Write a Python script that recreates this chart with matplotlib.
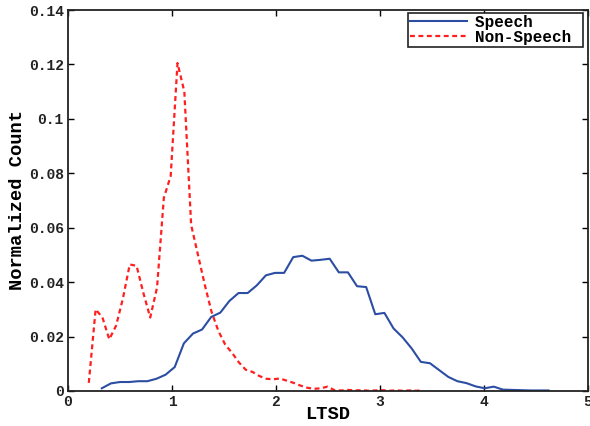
import numpy as np
import matplotlib
matplotlib.use("Agg")
import matplotlib.pyplot as plt
from matplotlib.ticker import FuncFormatter

# histogram bin centres (50 bins per class)
x_speech = np.linspace(0.325, 4.62, 50)
x_nonspeech = np.linspace(0.20, 3.415, 50)

speech = [0.0010, 0.0028, 0.0033, 0.0033, 0.0036, 0.0036, 0.0045, 0.0060, 0.0088, 0.0175,
          0.0211, 0.0226, 0.0272, 0.0288, 0.0331, 0.0360, 0.0360, 0.0388, 0.0425, 0.0434,
          0.0434, 0.0492, 0.0497, 0.0479, 0.0482, 0.0486, 0.0436, 0.0436, 0.0385, 0.0382,
          0.0282, 0.0287, 0.0230, 0.0197, 0.0156, 0.0107, 0.0102, 0.0077, 0.0052, 0.0036,
          0.0029, 0.0017, 0.0010, 0.0016, 0.0005, 0.0004, 0.0003, 0.0002, 0.0002, 0.0002]

nonspeech = [0.0030, 0.0300, 0.0270, 0.0190, 0.0240, 0.0340, 0.0465, 0.0460, 0.0360, 0.0270,
             0.0380, 0.0710, 0.0790, 0.1205, 0.1100, 0.0610, 0.0500, 0.0390, 0.0290, 0.0220,
             0.0170, 0.0140, 0.0105, 0.0078, 0.0070, 0.0055, 0.0045, 0.0043, 0.0046, 0.0038,
             0.0030, 0.0020, 0.0012, 0.0008, 0.0010, 0.0016, 0.0003, 0.0002, 0.0004, 0.0002,
             0.0003, 0.0001, 0.0002, 0.0003, 0.0001, 0.0002, 0.0001, 0.0002, 0.0001, 0.0002]

labels = ["Speech", "Non-Speech"]

font = "Liberation Mono"

fig = plt.figure(figsize=(5.9, 4.26), dpi=100)
ax = fig.add_axes([68 / 590, 35 / 426, 520 / 590, 381 / 426])

# trailing space gives the wider right margin of the MATLAB legend box
ax.plot(x_speech, speech, color="#2b4ea3", lw=1.5, label=labels[0] + " ")
ax.plot(x_nonspeech, nonspeech, color="#ff1f1f", lw=1.6, ls=(0, (2.2, 1.6)), label=labels[1] + " ")

ax.set_xlim(0, 5)
ax.set_ylim(0, 0.14)
ax.set_xticks(np.arange(0, 6, 1))
ax.set_yticks(np.arange(0, 0.141, 0.02))
fmt = FuncFormatter(lambda v, p: "%g" % round(v, 4))
ax.xaxis.set_major_formatter(fmt)
ax.yaxis.set_major_formatter(fmt)
ax.tick_params(direction="in", top=True, right=True, length=4, width=1,
               labelsize=10.5, pad=3)
for lab in ax.get_xticklabels() + ax.get_yticklabels():
    lab.set_fontfamily(font)
    lab.set_fontweight("bold")
    lab.set_color("#222222")
for s in ax.spines.values():
    s.set_linewidth(1.3)
    s.set_color("#222222")

ax.set_xlabel("LTSD", fontfamily=font, fontweight="bold", fontsize=13.5, labelpad=-2)
ax.set_ylabel("Normalized Count", fontfamily=font, fontweight="bold", fontsize=13.5, labelpad=2)

leg = ax.legend(loc="upper right", bbox_to_anchor=(583 / 590, 413 / 426),
                bbox_transform=fig.transFigure,
                prop={"family": font, "weight": "bold", "size": 11.5},
                handlelength=3.6, fancybox=False, framealpha=1, borderpad=0.12,
                labelspacing=0.0, borderaxespad=0, handletextpad=0.5)
leg.get_frame().set_edgecolor("#222222")
leg.get_frame().set_linewidth(1.2)

fig.savefig("out.png", dpi=100)
